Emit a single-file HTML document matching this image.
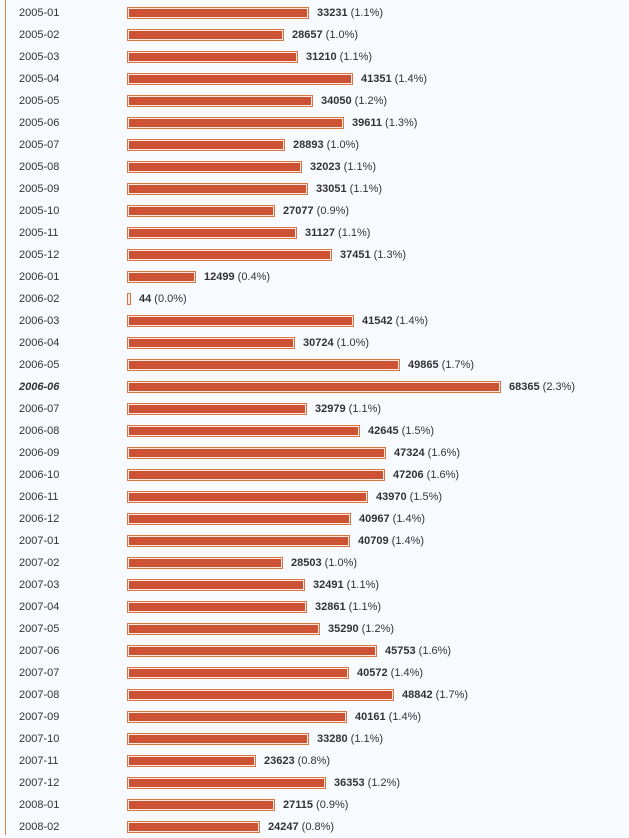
<!DOCTYPE html><html><head><style>
body{margin:0;background:#f7faff;width:629px;height:835px;overflow:hidden;font-family:"Liberation Sans",Arial,sans-serif;font-size:11px;color:#333}
.wrap{position:absolute;left:5px;top:0;width:1px;height:835px;background:#d9894f}
#c{position:absolute;left:0;top:2px;width:629px}
.r{position:absolute;left:0;height:22px;display:flex;align-items:center}
.l{width:108px;padding-left:19px;box-sizing:content-box}
.b{height:10px;border:1px solid #d8743f;box-shadow:inset 0 0 0 1px #fbe8df;background:#cc5233;margin-right:8px;box-sizing:content-box;padding:0}
.v b{font-weight:bold;color:#333}
</style></head><body><div class="wrap"></div>
<div id="c">
<div class="r" style="top:0"><span class="l">2005-01</span><span class="b" style="width:180px"></span><span class="v"><b>33231</b> (1.1%)</span></div>
<div class="r" style="top:22px"><span class="l">2005-02</span><span class="b" style="width:155px"></span><span class="v"><b>28657</b> (1.0%)</span></div>
<div class="r" style="top:44px"><span class="l">2005-03</span><span class="b" style="width:169px"></span><span class="v"><b>31210</b> (1.1%)</span></div>
<div class="r" style="top:66px"><span class="l">2005-04</span><span class="b" style="width:224px"></span><span class="v"><b>41351</b> (1.4%)</span></div>
<div class="r" style="top:88px"><span class="l">2005-05</span><span class="b" style="width:184px"></span><span class="v"><b>34050</b> (1.2%)</span></div>
<div class="r" style="top:110px"><span class="l">2005-06</span><span class="b" style="width:215px"></span><span class="v"><b>39611</b> (1.3%)</span></div>
<div class="r" style="top:132px"><span class="l">2005-07</span><span class="b" style="width:156px"></span><span class="v"><b>28893</b> (1.0%)</span></div>
<div class="r" style="top:154px"><span class="l">2005-08</span><span class="b" style="width:173px"></span><span class="v"><b>32023</b> (1.1%)</span></div>
<div class="r" style="top:176px"><span class="l">2005-09</span><span class="b" style="width:179px"></span><span class="v"><b>33051</b> (1.1%)</span></div>
<div class="r" style="top:198px"><span class="l">2005-10</span><span class="b" style="width:146px"></span><span class="v"><b>27077</b> (0.9%)</span></div>
<div class="r" style="top:220px"><span class="l">2005-11</span><span class="b" style="width:168px"></span><span class="v"><b>31127</b> (1.1%)</span></div>
<div class="r" style="top:242px"><span class="l">2005-12</span><span class="b" style="width:203px"></span><span class="v"><b>37451</b> (1.3%)</span></div>
<div class="r" style="top:264px"><span class="l">2006-01</span><span class="b" style="width:67px"></span><span class="v"><b>12499</b> (0.4%)</span></div>
<div class="r" style="top:286px"><span class="l">2006-02</span><span class="b" style="width:2px"></span><span class="v"><b>44</b> (0.0%)</span></div>
<div class="r" style="top:308px"><span class="l">2006-03</span><span class="b" style="width:225px"></span><span class="v"><b>41542</b> (1.4%)</span></div>
<div class="r" style="top:330px"><span class="l">2006-04</span><span class="b" style="width:166px"></span><span class="v"><b>30724</b> (1.0%)</span></div>
<div class="r" style="top:352px"><span class="l">2006-05</span><span class="b" style="width:271px"></span><span class="v"><b>49865</b> (1.7%)</span></div>
<div class="r" style="top:374px"><span class="l"><b><i>2006-06</i></b></span><span class="b" style="width:372px"></span><span class="v"><b>68365</b> (2.3%)</span></div>
<div class="r" style="top:396px"><span class="l">2006-07</span><span class="b" style="width:178px"></span><span class="v"><b>32979</b> (1.1%)</span></div>
<div class="r" style="top:418px"><span class="l">2006-08</span><span class="b" style="width:231px"></span><span class="v"><b>42645</b> (1.5%)</span></div>
<div class="r" style="top:440px"><span class="l">2006-09</span><span class="b" style="width:257px"></span><span class="v"><b>47324</b> (1.6%)</span></div>
<div class="r" style="top:462px"><span class="l">2006-10</span><span class="b" style="width:256px"></span><span class="v"><b>47206</b> (1.6%)</span></div>
<div class="r" style="top:484px"><span class="l">2006-11</span><span class="b" style="width:239px"></span><span class="v"><b>43970</b> (1.5%)</span></div>
<div class="r" style="top:506px"><span class="l">2006-12</span><span class="b" style="width:222px"></span><span class="v"><b>40967</b> (1.4%)</span></div>
<div class="r" style="top:528px"><span class="l">2007-01</span><span class="b" style="width:221px"></span><span class="v"><b>40709</b> (1.4%)</span></div>
<div class="r" style="top:550px"><span class="l">2007-02</span><span class="b" style="width:154px"></span><span class="v"><b>28503</b> (1.0%)</span></div>
<div class="r" style="top:572px"><span class="l">2007-03</span><span class="b" style="width:176px"></span><span class="v"><b>32491</b> (1.1%)</span></div>
<div class="r" style="top:594px"><span class="l">2007-04</span><span class="b" style="width:178px"></span><span class="v"><b>32861</b> (1.1%)</span></div>
<div class="r" style="top:616px"><span class="l">2007-05</span><span class="b" style="width:191px"></span><span class="v"><b>35290</b> (1.2%)</span></div>
<div class="r" style="top:638px"><span class="l">2007-06</span><span class="b" style="width:248px"></span><span class="v"><b>45753</b> (1.6%)</span></div>
<div class="r" style="top:660px"><span class="l">2007-07</span><span class="b" style="width:220px"></span><span class="v"><b>40572</b> (1.4%)</span></div>
<div class="r" style="top:682px"><span class="l">2007-08</span><span class="b" style="width:265px"></span><span class="v"><b>48842</b> (1.7%)</span></div>
<div class="r" style="top:704px"><span class="l">2007-09</span><span class="b" style="width:218px"></span><span class="v"><b>40161</b> (1.4%)</span></div>
<div class="r" style="top:726px"><span class="l">2007-10</span><span class="b" style="width:180px"></span><span class="v"><b>33280</b> (1.1%)</span></div>
<div class="r" style="top:748px"><span class="l">2007-11</span><span class="b" style="width:127px"></span><span class="v"><b>23623</b> (0.8%)</span></div>
<div class="r" style="top:770px"><span class="l">2007-12</span><span class="b" style="width:197px"></span><span class="v"><b>36353</b> (1.2%)</span></div>
<div class="r" style="top:792px"><span class="l">2008-01</span><span class="b" style="width:146px"></span><span class="v"><b>27115</b> (0.9%)</span></div>
<div class="r" style="top:814px"><span class="l">2008-02</span><span class="b" style="width:131px"></span><span class="v"><b>24247</b> (0.8%)</span></div>
</div>
</body></html>
